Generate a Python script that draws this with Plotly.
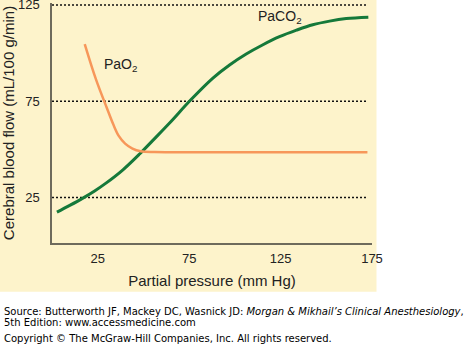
import plotly.graph_objects as go

# ---- data ----
paco2_x = [2.7, 9.7, 16.9, 23.3, 29.7, 38.8, 47.9, 56.1, 64.3, 75.8, 88.0, 97.1,
           106.2, 115.1, 124.4, 133.7, 142.6, 151.8, 160.9, 173.0]
paco2_y = [17.4, 20.9, 24.7, 28.4, 32.6, 39.4, 47.6, 55.6, 63.7, 75.6, 87.0, 93.8,
           99.5, 104.2, 108.5, 111.9, 114.7, 116.6, 117.9, 118.6]

pao2_x = [17.9, 24.0, 30.0, 33.5, 36.5, 40.0, 44.0, 48.5, 56.0, 65.0, 172.5]
pao2_y = [104.7, 86.5, 71.5, 63.0, 57.0, 53.0, 50.4, 49.0, 48.6, 48.5, 48.5]

x_ticks = [25, 75, 125, 175]
y_ticks = [25, 75, 125]
grid_levels = [25, 75, 125]

# ---- layout geometry (pixels) ----
W, H = 465, 356
L, R, T, B = 52.3, 372.5, 3.0, 243.3
pw, ph = R - L, B - T

def px(x):
    return (x - L) / pw

def py(y):
    return (B - y) / ph

FONT = "Liberation Sans, Arial, Helvetica, sans-serif"
FOOT = "DejaVu Sans, Verdana, sans-serif"
GREEN = "#15793a"
ORANGE = "#f7975a"
CREAM = "#fdf3cb"
AXIS = "#6e6a5c"

fig = go.Figure()
fig.add_trace(go.Scatter(x=paco2_x, y=paco2_y, mode="lines",
                         line=dict(color=GREEN, width=3, shape="spline", smoothing=1.0),
                         hoverinfo="skip", showlegend=False))
fig.add_trace(go.Scatter(x=pao2_x, y=pao2_y, mode="lines",
                         line=dict(color=ORANGE, width=2.5, shape="spline", smoothing=1.0),
                         hoverinfo="skip", showlegend=False))

shapes = [dict(type="rect", xref="paper", yref="paper",
               x0=px(0), x1=px(377), y0=py(292), y1=py(0),
               fillcolor=CREAM, line=dict(width=0), layer="below")]
for g in grid_levels:
    shapes.append(dict(type="line", xref="x", yref="y", x0=0, x1=172.5, y0=g, y1=g,
                       line=dict(color="#111111", width=1.5, dash="2px,2px"), layer="below"))

foot_font = dict(family=FOOT, size=10, color="#000000")
annotations = [
    dict(text="PaO<sub>2</sub>", x=px(121), y=py(65), xref="paper", yref="paper",
         xanchor="center", yanchor="middle",
         showarrow=False, font=dict(family=FONT, size=14, color="#222222")),
    dict(text="PaCO<sub>2</sub>", x=px(280), y=py(17), xref="paper", yref="paper",
         xanchor="center", yanchor="middle",
         showarrow=False, font=dict(family=FONT, size=14, color="#222222")),
    dict(text="Source: Butterworth JF, Mackey DC, Wasnick JD: <i>Morgan &amp; Mikhail’s Clinical Anesthesiology</i>,",
         x=px(2), y=py(311.5), xref="paper", yref="paper", xanchor="left", yanchor="middle",
         align="left", showarrow=False, font=foot_font),
    dict(text="5th Edition: www.accessmedicine.com",
         x=px(2), y=py(322.5), xref="paper", yref="paper", xanchor="left", yanchor="middle",
         align="left", showarrow=False, font=foot_font),
    dict(text="Copyright © The McGraw-Hill Companies, Inc. All rights reserved.",
         x=px(2), y=py(339), xref="paper", yref="paper", xanchor="left", yanchor="middle",
         align="left", showarrow=False, font=foot_font),
]

fig.update_layout(
    width=W, height=H,
    margin=dict(l=L, r=W - R, t=T, b=H - B, pad=0, autoexpand=False),
    paper_bgcolor="white",
    plot_bgcolor="rgba(0,0,0,0)",
    shapes=shapes,
    annotations=annotations,
    showlegend=False,
    font=dict(family=FONT, size=13, color="#222222"),
)
fig.update_xaxes(range=[0, 175], tickvals=x_ticks, showgrid=False, zeroline=False,
                 automargin=False, ticklabeloverflow="allow",
                 showline=True, linecolor=AXIS, linewidth=1.5,
                 ticks="outside", ticklen=3, tickcolor="rgba(0,0,0,0)",
                 tickfont=dict(size=13),
                 title=dict(text="Partial pressure (mm Hg)", font=dict(size=15), standoff=10))
fig.update_yaxes(range=[1.4, 126.0], tickvals=y_ticks, showgrid=False, zeroline=False,
                 automargin=False, ticklabeloverflow="allow",
                 showline=True, linecolor=AXIS, linewidth=1.5,
                 ticks="outside", ticklen=8, tickcolor="rgba(0,0,0,0)",
                 tickfont=dict(size=13),
                 title=dict(text="Cerebral blood flow (mL/100 g/min)", font=dict(size=15), standoff=1))

fig.write_html("out.html",
               config={"displayModeBar": False},
               post_script="document.body.style.margin='0';document.body.style.overflow='hidden';")
